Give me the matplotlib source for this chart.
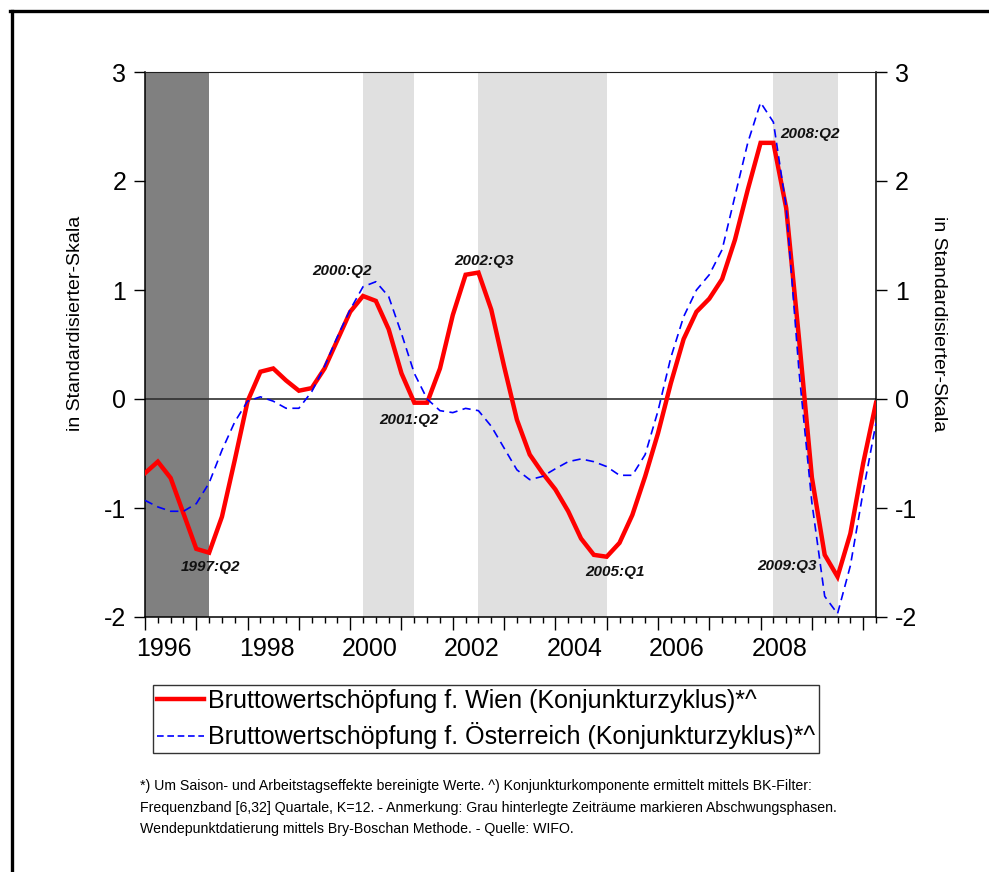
import matplotlib
matplotlib.use("Agg")
import matplotlib.pyplot as plt
from matplotlib.lines import Line2D
from matplotlib.ticker import FixedLocator
from matplotlib.transforms import ScaledTranslation

plt.rcParams['font.family'] = ['Liberation Sans', 'DejaVu Sans']

# ---------------- data ----------------
quarters = [f"{y}Q{q}" for y in range(1996, 2011) for q in range(1, 5)][:58]  # 1996Q1 .. 2010Q2

wien = [-0.68, -0.575, -0.725, -1.05, -1.375, -1.41, -1.08, -0.56, -0.02, 0.25,
        0.28, 0.17, 0.076, 0.10, 0.28, 0.54, 0.80, 0.945, 0.90, 0.64,
        0.235, -0.034, -0.034, 0.28, 0.77, 1.14, 1.16, 0.82, 0.30, -0.19,
        -0.51, -0.68, -0.83, -1.03, -1.28, -1.43, -1.447, -1.32, -1.064, -0.71,
        -0.315, 0.144, 0.55, 0.80, 0.92, 1.10, 1.46, 1.92, 2.35, 2.35,
        1.75, 0.55, -0.72, -1.43, -1.63, -1.235, -0.59, -0.035]

oesterreich = [-0.93, -0.99, -1.03, -1.03, -0.96, -0.77, -0.47, -0.21, -0.02, 0.02,
               -0.02, -0.085, -0.085, 0.067, 0.30, 0.57, 0.82, 1.03, 1.076, 0.94,
               0.60, 0.235, 0.0, -0.107, -0.125, -0.086, -0.107, -0.25, -0.45, -0.65,
               -0.74, -0.71, -0.64, -0.575, -0.55, -0.575, -0.62, -0.70, -0.70, -0.51,
               -0.11, 0.38, 0.755, 1.0, 1.14, 1.37, 1.86, 2.35, 2.72, 2.54,
               1.76, 0.25, -0.95, -1.81, -1.97, -1.53, -0.85, -0.22]

downturns = [("1996Q1", "1997Q2"), ("2000Q2", "2001Q2"), ("2002Q3", "2005Q1"), ("2008Q2", "2009Q3")]
downturn_colors = ["#808080", "#e0e0e0", "#e0e0e0", "#e0e0e0"]

turning_points = ["1997:Q2", "2000:Q2", "2001:Q2", "2002:Q3", "2005:Q1", "2008:Q2", "2009:Q3"]

year_labels = ["1996", "1998", "2000", "2002", "2004", "2006", "2008"]
y_ticks = [-2, -1, 0, 1, 2, 3]

label_wien = "Bruttowertschöpfung f. Wien (Konjunkturzyklus)*^"
label_oe = "Bruttowertschöpfung f. Österreich (Konjunkturzyklus)*^"
y_label = "in Standardisierter-Skala"
footnote = ["*) Um Saison- und Arbeitstagseffekte bereinigte Werte. ^) Konjunkturkomponente ermittelt mittels BK-Filter:",
            "Frequenzband [6,32] Quartale, K=12. - Anmerkung: Grau hinterlegte Zeiträume markieren Abschwungsphasen.",
            "Wendepunktdatierung mittels Bry-Boschan Methode. - Quelle: WIFO."]

# ---------------- figure ----------------
W, H = 989, 872
fig = plt.figure(figsize=(W / 100, H / 100), dpi=100)
ax = fig.add_axes([145 / W, 1 - 617 / H, 731 / W, 545 / H])

x = list(range(len(quarters)))
idx = {q: i for i, q in enumerate(quarters)}

for (a, b), c in zip(downturns, downturn_colors):
    ax.axvspan(idx[a], idx[b], color=c, lw=0, zorder=0)

ax.axhline(0, color="#303030", lw=1.2, zorder=1)
ax.plot(x, wien, color="#ff0000", lw=3.2, zorder=3, solid_joinstyle="miter")
ax.plot(x, oesterreich, color="#0000ff", lw=1.2, ls=(0, (5, 3.2)), zorder=4)

ax.set_xlim(0, len(quarters) - 1)
ax.set_ylim(-2, 3)

# x ticks: yearly major, quarterly minor
major = [i for i in x if quarters[i].endswith("Q1")]
ax.xaxis.set_major_locator(FixedLocator(major))
ax.xaxis.set_minor_locator(FixedLocator(x))
labels = []
for i in major:
    yr = quarters[i][:4]
    labels.append(yr if yr in year_labels else "")
ax.set_xticklabels(labels)
ax.tick_params(axis="x", which="major", direction="out", length=9.4, width=1, pad=5, labelsize=18)
ax.tick_params(axis="x", which="minor", direction="out", length=4.3, width=1)
off = ScaledTranslation(19 / 100, 0, fig.dpi_scale_trans)
for lab in ax.get_xticklabels():
    lab.set_transform(lab.get_transform() + off)

ax.set_yticks(y_ticks)
ax.set_yticklabels([str(v) for v in y_ticks])
ax.tick_params(axis="y", which="both", direction="out", length=8, width=1, pad=5.5,
               labelsize=18, left=True, right=True, labelleft=True, labelright=True)

for s in ["left", "right", "bottom"]:
    ax.spines[s].set_linewidth(1.1)
    ax.spines[s].set_color("black")
ax.spines["top"].set_linewidth(0.8)
ax.spines["top"].set_color("#202020")

# turning point annotations
tp_pos = [(5.07, -1.537), (15.39, 1.17), (20.62, -0.193), (26.42, 1.27),
          (36.67, -1.587), (51.83, 2.427), (50.04, -1.528)]
for t, (px, py) in zip(turning_points, tp_pos):
    ax.text(px, py, t, ha="center", va="center", fontsize=11, fontweight="bold",
            fontstyle="italic", color="#111111", zorder=5)

# axis titles
fig.text(75.5 / W, 1 - 323 / H, y_label, rotation=90, ha="center", va="center", fontsize=14)
fig.text(939 / W, 1 - 324 / H, y_label, rotation=-90, ha="center", va="center", fontsize=14)

# legend
handles = [Line2D([], [], color="#ff0000", lw=3.2),
           Line2D([], [], color="#0000ff", lw=1.2, ls=(0, (4, 2.2)))]
leg = fig.legend(handles, [label_wien, label_oe], loc="upper left",
                 bbox_to_anchor=(153 / W, 1 - 685 / H), bbox_transform=fig.transFigure,
                 fontsize=18, frameon=True, fancybox=False, edgecolor="black",
                 handlelength=1.9, handletextpad=0.15, borderpad=0.15, labelspacing=0.38,
                 borderaxespad=0)
leg.get_frame().set_linewidth(1.0)

# footnote
for k, line in enumerate(footnote):
    fig.text(140 / W, 1 - (786 + 21.5 * k) / H, line, ha="left", va="center", fontsize=10.2)

# outer frame (top and left visible)
fig.add_artist(Line2D([10 / W, 1.0], [1 - 11 / H, 1 - 11 / H], transform=fig.transFigure,
                      color="black", lw=2.4, solid_capstyle="projecting"))
fig.add_artist(Line2D([11.5 / W, 11.5 / W], [0, 1 - 11 / H], transform=fig.transFigure,
                      color="black", lw=2.4, solid_capstyle="projecting"))

fig.savefig("out.png", dpi=100)
